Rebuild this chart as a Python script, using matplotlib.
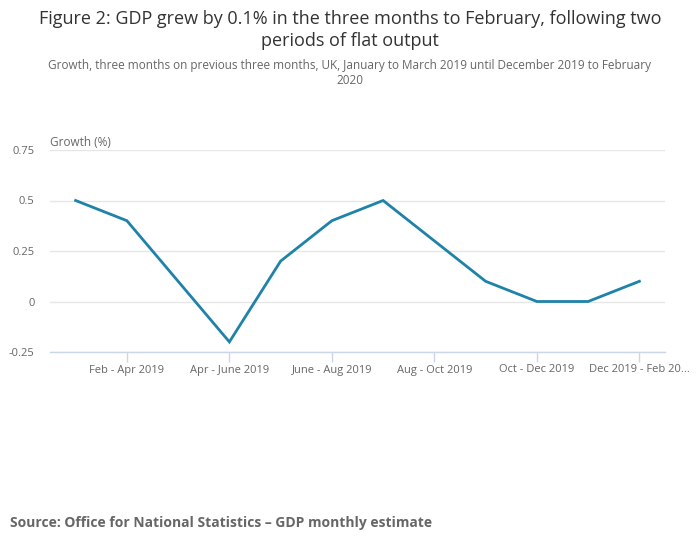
import matplotlib
matplotlib.use("Agg")
import matplotlib.pyplot as plt

periods = ["Jan - Mar 2019", "Feb - Apr 2019", "Mar - May 2019", "Apr - June 2019",
           "May - July 2019", "June - Aug 2019", "July - Sep 2019", "Aug - Oct 2019",
           "Sep - Nov 2019", "Oct - Dec 2019", "Nov 2019 - Jan 2020", "Dec 2019 - Feb 20..."]
growth = [0.5, 0.4, 0.1, -0.2, 0.2, 0.4, 0.5, 0.3, 0.1, 0.0, 0.0, 0.1]
yticks = [-0.25, 0, 0.25, 0.5, 0.75]
ytick_labels = ["-0.25", "0", "0.25", "0.5", "0.75"]

plt.rcParams['font.family'] = ['Open Sans', 'DejaVu Sans']

W, H = 700, 549
fig = plt.figure(figsize=(W/100, H/100), dpi=100)
ax = fig.add_axes([50/W, 1 - 352/H, (665-50)/W, (352-150)/H])

x = list(range(len(periods)))
ax.plot(x, growth, color="#1f82a8", linewidth=2, solid_joinstyle="miter")
ax.set_xlim(-0.5, len(periods) - 0.5)
ax.set_ylim(-0.25, 0.75)
ax.set_yticks(yticks)
ax.set_yticklabels(ytick_labels, fontsize=8, color="#666666")
tick_idx = x[1::2]
ax.set_xticks(tick_idx)
ax.set_xticklabels([periods[i] for i in tick_idx], fontsize=8, color="#666666")
ax.tick_params(axis="y", length=0, pad=11)
ax.tick_params(axis="x", length=7, color="#ccd6eb", width=1, pad=2)
ax.grid(axis="y", color="#e6e6e6", linewidth=1)
ax.set_axisbelow(True)
for s in ["top", "right", "left"]:
    ax.spines[s].set_visible(False)
ax.spines["bottom"].set_color("#ccd6eb")
ax.spines["bottom"].set_linewidth(1)

fig.text(50/W, 1 - 146/H, "Growth (%)", fontsize=8.5, color="#666666", ha="left", va="baseline")

fig.text(0.5, 1 - 24/H, "Figure 2: GDP grew by 0.1% in the three months to February, following two",
         fontsize=13, color="#333333", ha="center", va="baseline")
fig.text(0.5, 1 - 46/H, "periods of flat output",
         fontsize=13, color="#333333", ha="center", va="baseline")
fig.text(0.5, 1 - 69/H, "Growth, three months on previous three months, UK, January to March 2019 until December 2019 to February",
         fontsize=8.5, color="#666666", ha="center", va="baseline")
fig.text(0.5, 1 - 84/H, "2020", fontsize=8.5, color="#666666", ha="center", va="baseline")

fig.text(10/W, 1 - 527/H, "Source: Office for National Statistics \u2013 GDP monthly estimate",
         fontsize=10, color="#666666", fontweight="bold", ha="left", va="baseline")

fig.savefig("out.png", dpi=100, facecolor="white")
